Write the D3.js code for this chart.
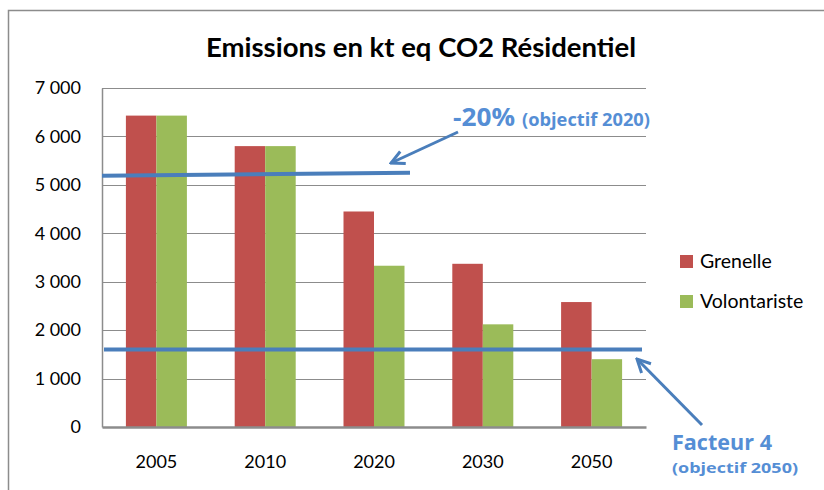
<!DOCTYPE html>
<html>
<head>
<meta charset="utf-8">
<script src="https://cdn.jsdelivr.net/npm/d3@7"></script>
<style>
  body { margin: 0; background: #fff; }
  text { font-family: Lato, "Open Sans", sans-serif; }
</style>
</head>
<body>
<div id="chart"></div>
<script>
// data
var years = ['2005', '2010', '2020', '2030', '2050']
var series = ['Grenelle', 'Volontariste']
var grenelle = [6430, 5800, 4450, 3370, 2580]
var volontariste = [6430, 5800, 3330, 2120, 1400]
var yTicks = [0, 1000, 2000, 3000, 4000, 5000, 6000, 7000]
var colors = ['#C0504D', '#9BBB59']
// target lines: [value at start, value at end]
var target2020 = [5190, 5250]
var target2050 = [1600, 1600]

var chart = {
  width: 824,
  height: 490,
  left: 102,
  right: 646,
  top: 88,
  bottom: 427
}

chart.svg = d3.select('#chart')
  .append('svg')
  .attr('width', chart.width)
  .attr('height', chart.height)

// outer frame
chart.svg.append('path')
  .attr('d', 'M 8.5 ' + chart.height + ' L 8.5 10.5 L ' + chart.width + ' 10.5')
  .attr('fill', 'none')
  .attr('stroke', '#8c8c8c')
  .attr('stroke-width', 1.5)

var x = d3.scaleBand()
  .domain(years)
  .range([chart.left, chart.right])

var xInner = d3.scaleBand()
  .domain(series)
  .range([0, 61])

var y = d3.scaleLinear()
  .domain([0, 7000])
  .range([chart.bottom, chart.top])

// gridlines
chart.svg.append('g')
  .selectAll('line')
  .data(yTicks.slice(1))
  .enter()
  .append('line')
  .attr('x1', chart.left)
  .attr('x2', chart.right)
  .attr('y1', function (d) { return Math.round(y(d)) + 0.5 })
  .attr('y2', function (d) { return Math.round(y(d)) + 0.5 })
  .attr('stroke', '#8c8c8c')
  .attr('stroke-width', 1)

// y axis labels
var yAxis = chart.svg.append('g')
  .attr('transform', 'translate(' + chart.left + ',0)')
  .call(d3.axisLeft(y).tickValues(yTicks).tickSize(0).tickPadding(21)
    .tickFormat(function (d) { return d3.format(',')(d).replace(',', ' ') }))
yAxis.select('.domain').attr('stroke', '#8c8c8c').attr('stroke-width', 1.5)
yAxis.selectAll('text')
  .style('font-family', 'Lato, sans-serif')
  .style('font-size', '18px')
  .style('white-space', 'pre')
  .attr('fill', '#000')

// bars
var groups = chart.svg.append('g')
  .selectAll('g')
  .data(years.map(function (yr, i) {
    return { year: yr, values: [grenelle[i], volontariste[i]] }
  }))
  .enter()
  .append('g')
  .attr('transform', function (d) {
    return 'translate(' + (x(d.year) + x.bandwidth() / 2 - 30.5) + ',0)'
  })

groups.selectAll('rect')
  .data(function (d) { return d.values })
  .enter()
  .append('rect')
  .attr('x', function (d, i) { return xInner(series[i]) })
  .attr('width', xInner.bandwidth())
  .attr('y', function (d) { return y(d) })
  .attr('height', function (d) { return chart.bottom - y(d) })
  .attr('fill', function (d, i) { return colors[i] })

// x axis
var xAxis = chart.svg.append('g')
  .attr('transform', 'translate(0,' + chart.bottom + ')')
  .call(d3.axisBottom(x).tickSize(0).tickPadding(28))
xAxis.select('.domain').attr('stroke', '#8c8c8c').attr('stroke-width', 2.5)
xAxis.selectAll('text')
  .style('font-family', 'Lato, sans-serif')
  .style('font-size', '18px')
  .attr('fill', '#000')

// target lines
var lineBlue = '#4A7EBB'
var textBlue = '#558ED5'

chart.svg.append('line')
  .attr('x1', chart.left)
  .attr('x2', 410)
  .attr('y1', y(target2020[0]))
  .attr('y2', y(target2020[1]))
  .attr('stroke', lineBlue)
  .attr('stroke-width', 4)

chart.svg.append('line')
  .attr('x1', chart.left + 2)
  .attr('x2', 642)
  .attr('y1', y(target2050[0]))
  .attr('y2', y(target2050[1]))
  .attr('stroke', lineBlue)
  .attr('stroke-width', 4)

// arrows
chart.svg.append('defs').append('marker')
  .attr('id', 'arrow')
  .attr('viewBox', '0 0 10 10')
  .attr('refX', 9)
  .attr('refY', 5)
  .attr('markerWidth', 5.5)
  .attr('markerHeight', 5.5)
  .attr('orient', 'auto')
  .append('path')
  .attr('d', 'M 1 1 L 9 5 L 1 9')
  .attr('fill', 'none')
  .attr('stroke', lineBlue)
  .attr('stroke-width', 1.8)

chart.svg.append('line')
  .attr('x1', 458).attr('y1', 132)
  .attr('x2', 391).attr('y2', 163)
  .attr('stroke', lineBlue)
  .attr('stroke-width', 3)
  .attr('marker-end', 'url(#arrow)')

chart.svg.append('line')
  .attr('x1', 702).attr('y1', 425)
  .attr('x2', 637).attr('y2', 359)
  .attr('stroke', lineBlue)
  .attr('stroke-width', 3)
  .attr('marker-end', 'url(#arrow)')

// annotations
function note(x0, y0, size, width, label) {
  chart.svg.append('text')
    .attr('x', x0)
    .attr('y', y0)
    .attr('fill', textBlue)
    .attr('textLength', width)
    .attr('lengthAdjust', 'spacingAndGlyphs')
    .style('font-family', '"Open Sans", sans-serif')
    .style('font-weight', 'bold')
    .style('font-size', size + 'px')
    .text(label)
}
note(453, 126, 25, 62, '-20%')
note(522, 126, 17, 128, '(objectif 2020)')
note(672, 450, 21, 100, 'Facteur 4')
note(672, 473, 15, 126, '(objectif 2050)')

// title
chart.svg.append('text')
  .attr('x', 421)
  .attr('y', 57)
  .attr('text-anchor', 'middle')
  .attr('textLength', 430)
  .attr('lengthAdjust', 'spacingAndGlyphs')
  .style('font-weight', 'bold')
  .style('font-size', '26px')
  .text('Emissions en kt eq CO2 Résidentiel')

// legend
var legend = chart.svg.append('g')
  .selectAll('g')
  .data(series)
  .enter()
  .append('g')
  .attr('transform', function (d, i) { return 'translate(680,' + (255 + i * 40) + ')' })

legend.append('rect')
  .attr('width', 13)
  .attr('height', 13)
  .attr('fill', function (d, i) { return colors[i] })

legend.append('text')
  .attr('x', 20)
  .attr('y', 13)
  .style('font-size', '19.5px')
  .text(function (d) { return d })
</script>
</body>
</html>
